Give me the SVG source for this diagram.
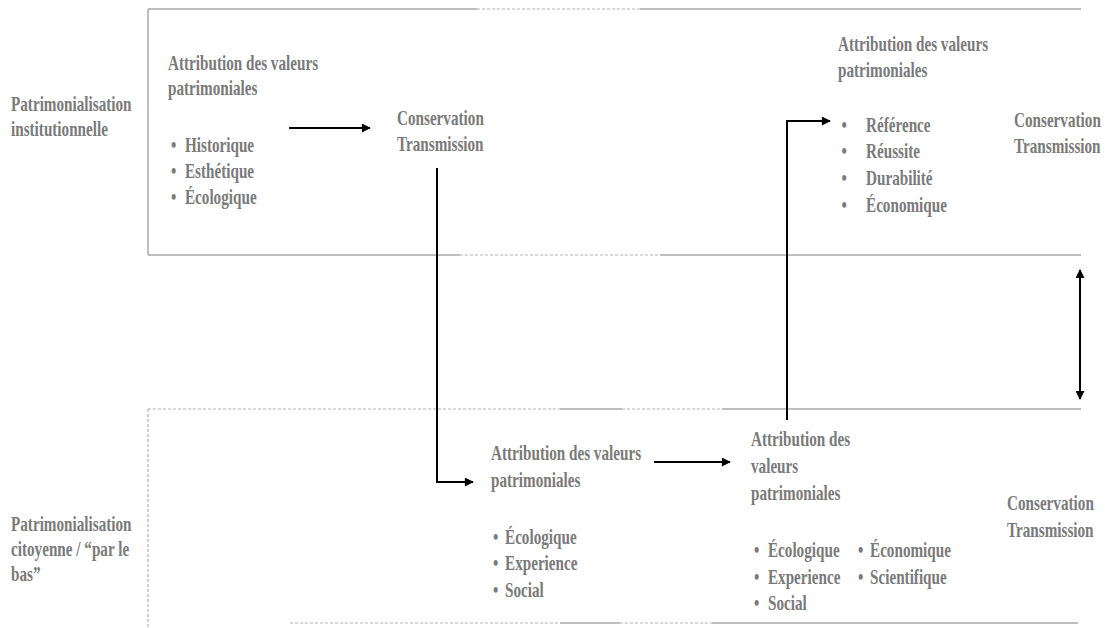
<svg xmlns="http://www.w3.org/2000/svg" width="1105" height="628" viewBox="0 0 1105 628">
<style>
  text { font-family: "Liberation Serif", "Times New Roman", serif; font-weight: bold; font-size: 22px; fill: #7a7a7a; }
  .band { stroke: #a8a8a8; stroke-width: 1.5; fill: none; }
  .dash { stroke: #b4b4b4; stroke-width: 1.2; stroke-dasharray: 3 2; fill: none; }
  .conn { stroke: #000; stroke-width: 2; fill: none; }
</style>
<defs>
  <marker id="arr" viewBox="0 0 10 10" refX="9" refY="5" markerWidth="5" markerHeight="4.5" orient="auto-start-reverse" markerUnits="strokeWidth">
    <path d="M0,0 L10,5 L0,10 z" fill="#000"/>
  </marker>
</defs>
<rect width="1105" height="628" fill="#fff"/>

<g id="band-institutionnelle">
  <line class="band" x1="148" y1="9" x2="148" y2="255"/>
  <line class="band" x1="148" y1="9" x2="477" y2="9"/>
  <line class="dash" x1="477" y1="9" x2="640" y2="9"/>
  <line class="band" x1="640" y1="9" x2="1081" y2="9"/>
  <line class="band" x1="148" y1="255" x2="460" y2="255"/>
  <line class="dash" x1="460" y1="255" x2="660" y2="255"/>
  <line class="band" x1="660" y1="255" x2="1081" y2="255"/>
</g>

<g id="band-citoyenne">
  <line class="dash" x1="148" y1="409" x2="148" y2="628"/>
  <line class="dash" x1="148" y1="409" x2="560" y2="409"/>
  <line class="band" x1="560" y1="409" x2="622" y2="409"/>
  <line class="dash" x1="622" y1="409" x2="722" y2="409"/>
  <line class="band" x1="722" y1="409" x2="1081" y2="409"/>
  <line class="dash" x1="290" y1="623" x2="560" y2="623"/>
  <line class="band" x1="560" y1="623" x2="620" y2="623"/>
  <line class="dash" x1="620" y1="623" x2="712" y2="623"/>
  <line class="band" x1="712" y1="623" x2="1078" y2="623"/>
</g>

<g id="label-institutionnelle">
  <text transform="translate(11,0) scale(0.69 1)"><tspan x="0" y="111">Patrimonialisation</tspan><tspan x="0" y="136">institutionnelle</tspan></text>
</g>

<g id="label-citoyenne">
  <text transform="translate(11,0) scale(0.69 1)"><tspan x="0" y="531">Patrimonialisation</tspan><tspan x="0" y="556">citoyenne / “par le</tspan><tspan x="0" y="581">bas”</tspan></text>
</g>

<g id="node-attribution-institutionnelle">
  <text transform="translate(168,0) scale(0.69 1)">
    <tspan x="0" y="70">Attribution des valeurs</tspan>
    <tspan x="0" y="95">patrimoniales</tspan>
    <tspan x="4.2" y="152">•</tspan><tspan x="24.6" y="152">Historique</tspan>
    <tspan x="4.2" y="178">•</tspan><tspan x="24.6" y="178">Esthétique</tspan>
    <tspan x="4.2" y="204">•</tspan><tspan x="24.6" y="204">Écologique</tspan>
  </text>
</g>

<g id="node-conservation-1">
  <text transform="translate(397,0) scale(0.69 1)"><tspan x="0" y="125">Conservation</tspan><tspan x="0" y="151">Transmission</tspan></text>
</g>

<g id="node-attribution-institutionnelle-2">
  <text transform="translate(838,0) scale(0.69 1)">
    <tspan x="0" y="51">Attribution des valeurs</tspan>
    <tspan x="0" y="77">patrimoniales</tspan>
    <tspan x="5.2" y="132">•</tspan><tspan x="40.6" y="132">Référence</tspan>
    <tspan x="5.2" y="158">•</tspan><tspan x="40.6" y="158">Réussite</tspan>
    <tspan x="5.2" y="185">•</tspan><tspan x="40.6" y="185">Durabilité</tspan>
    <tspan x="5.2" y="212">•</tspan><tspan x="40.6" y="212">Économique</tspan>
  </text>
</g>

<g id="node-conservation-2">
  <text transform="translate(1014,0) scale(0.69 1)"><tspan x="0" y="127">Conservation</tspan><tspan x="0" y="153">Transmission</tspan></text>
</g>

<g id="node-attribution-citoyenne-1">
  <text transform="translate(491,0) scale(0.69 1)">
    <tspan x="0" y="460">Attribution des valeurs</tspan>
    <tspan x="0" y="487">patrimoniales</tspan>
    <tspan x="2.9" y="544">•</tspan><tspan x="20.3" y="544">Écologique</tspan>
    <tspan x="2.9" y="570">•</tspan><tspan x="20.3" y="570">Experience</tspan>
    <tspan x="2.9" y="597">•</tspan><tspan x="20.3" y="597">Social</tspan>
  </text>
</g>

<g id="node-attribution-citoyenne-2">
  <text transform="translate(751,0) scale(0.69 1)">
    <tspan x="0" y="446">Attribution des</tspan>
    <tspan x="0" y="473">valeurs</tspan>
    <tspan x="0" y="500">patrimoniales</tspan>
    <tspan x="4.2" y="557">•</tspan><tspan x="24.6" y="557">Écologique</tspan>
    <tspan x="155.1" y="557">•</tspan><tspan x="172.5" y="557">Économique</tspan>
    <tspan x="4.2" y="584">•</tspan><tspan x="24.6" y="584">Experience</tspan>
    <tspan x="155.1" y="584">•</tspan><tspan x="172.5" y="584">Scientifique</tspan>
    <tspan x="4.2" y="610">•</tspan><tspan x="24.6" y="610">Social</tspan>
  </text>
</g>

<g id="node-conservation-3">
  <text transform="translate(1007,0) scale(0.69 1)"><tspan x="0" y="510">Conservation</tspan><tspan x="0" y="537">Transmission</tspan></text>
</g>

<g id="connectors">
  <line class="conn" x1="289" y1="128" x2="370" y2="128" marker-end="url(#arr)"/>
  <polyline class="conn" points="437,168 437,482 473,482" marker-end="url(#arr)"/>
  <line class="conn" x1="654" y1="462" x2="730" y2="462" marker-end="url(#arr)"/>
  <polyline class="conn" points="787,420 787,121 830,121" marker-end="url(#arr)"/>
  <line class="conn" x1="1080" y1="270" x2="1080" y2="399" marker-start="url(#arr)" marker-end="url(#arr)"/>
</g>
</svg>
